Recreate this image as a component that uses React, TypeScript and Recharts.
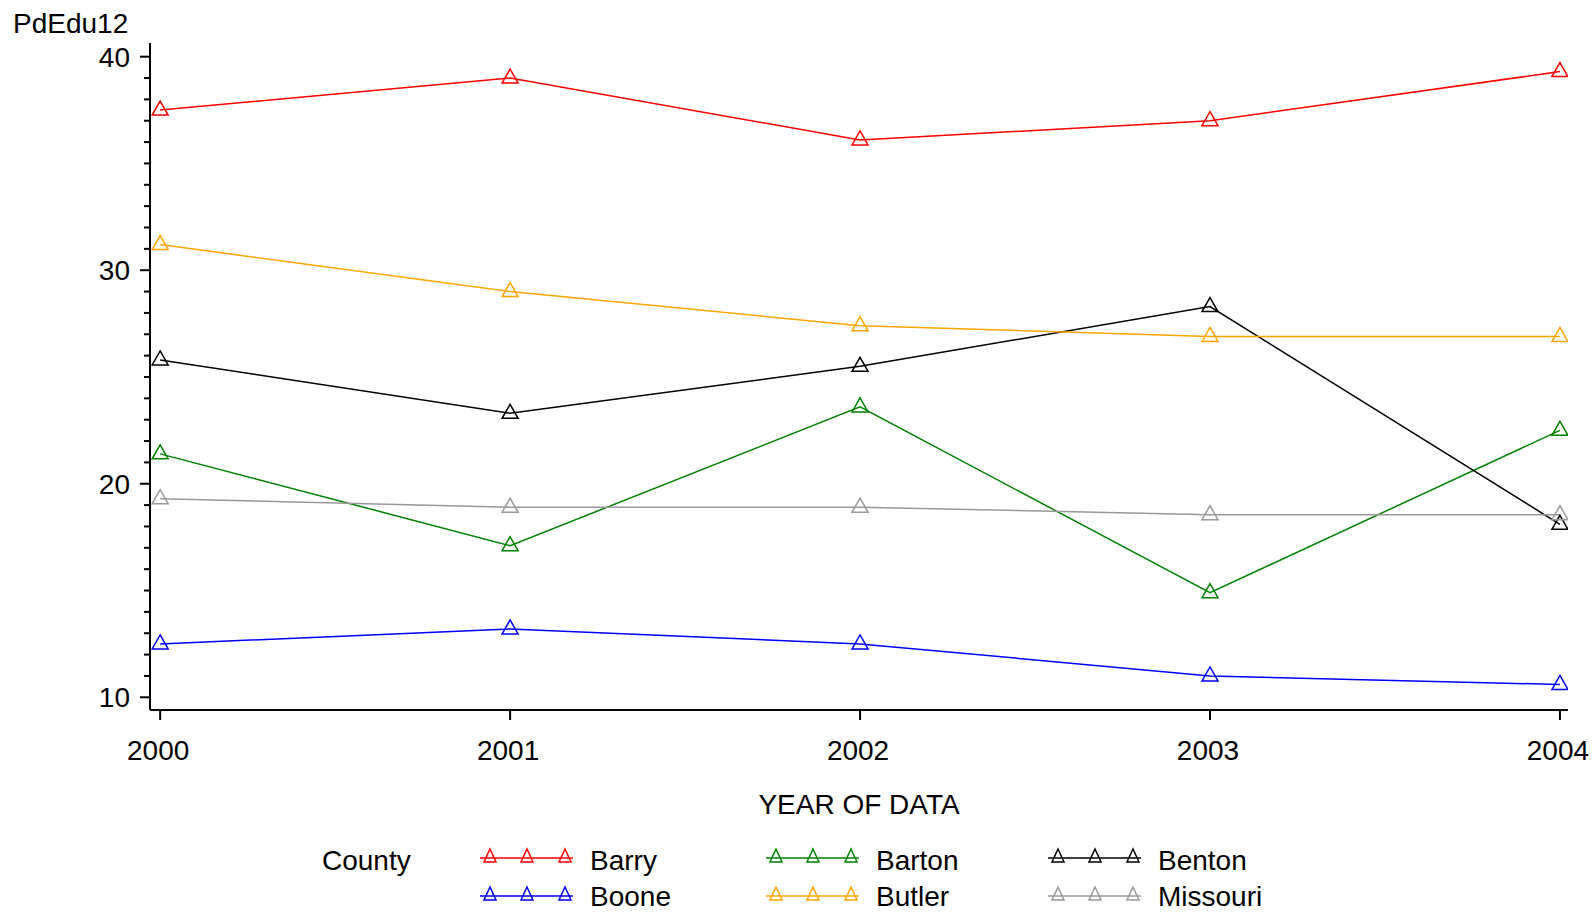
import React from 'react';
import { LineChart, Line, XAxis, YAxis, Label } from 'recharts';

const years = [2000, 2001, 2002, 2003, 2004];
const barry = [37.5, 39.0, 36.1, 37.0, 39.3];
const barton = [21.4, 17.1, 23.6, 14.9, 22.5];
const benton = [25.8, 23.3, 25.5, 28.3, 18.1];
const boone = [12.5, 13.2, 12.5, 11.0, 10.6];
const butler = [31.2, 29.0, 27.4, 26.9, 26.9];
const missouri = [19.3, 18.9, 18.9, 18.55, 18.55];

const majorYTicks = [10, 20, 30, 40];
const yTicks = [
  10, 11, 12, 13, 14, 15, 16, 17, 18, 19,
  20, 21, 22, 23, 24, 25, 26, 27, 28, 29,
  30, 31, 32, 33, 34, 35, 36, 37, 38, 39, 40,
];

const series = [
  { key: 'Barry', color: '#FF0000', values: barry },
  { key: 'Barton', color: '#008000', values: barton },
  { key: 'Benton', color: '#000000', values: benton },
  { key: 'Boone', color: '#0000FF', values: boone },
  { key: 'Butler', color: '#FFA500', values: butler },
  { key: 'Missouri', color: '#999999', values: missouri },
];

const data = years.map((year, i) => {
  const row: Record<string, number> = { year };
  series.forEach((s) => {
    row[s.key] = s.values[i];
  });
  return row;
});

const FONT = '"Liberation Sans", Arial, sans-serif';
const FS = 28;

const triPath = (cx: number, cy: number, hw: number, up: number, down: number) =>
  `M${cx},${cy - up}L${cx + hw},${cy + down}L${cx - hw},${cy + down}Z`;

const makeDot = (color: string) => (props: any) => {
  const { cx, cy, index } = props;
  if (cx == null || cy == null) return <g key={`e${index}`} />;
  return (
    <path
      key={`d${index}`}
      d={triPath(cx, cy, 8, 9, 5)}
      fill="none"
      stroke={color}
      strokeWidth={1.5}
    />
  );
};

const YTick = (props: any) => {
  const { x, y, payload } = props;
  const v = payload.value;
  const major = majorYTicks.includes(v);
  return (
    <g>
      <line x1={x - (major ? 10 : 6)} x2={x} y1={y} y2={y} stroke="#000" strokeWidth={2} />
      {major && (
        <text x={x - 20} y={y + 10} textAnchor="end" fontFamily={FONT} fontSize={FS} fill="#000">
          {v}
        </text>
      )}
    </g>
  );
};

const XTick = (props: any) => {
  const { x, y, payload } = props;
  return (
    <g>
      <line x1={x} x2={x} y1={y} y2={y + 10} stroke="#000" strokeWidth={2} />
      <text x={x - 2} y={y + 50} textAnchor="middle" fontFamily={FONT} fontSize={FS} fill="#000">
        {payload.value}
      </text>
    </g>
  );
};

const legendCols = [480, 766, 1048];
const legendRowsLine = [858, 896];
const legendRowsText = [870, 906];

export default function App() {
  return (
    <div
      style={{
        position: 'absolute',
        left: 0,
        top: 0,
        width: 1596,
        height: 912,
        background: '#fff',
        overflow: 'hidden',
      }}
    >
      <LineChart
        width={1596}
        height={912}
        data={data}
        margin={{ top: 43, right: 28, left: 70, bottom: 162 }}
      >
        <XAxis
          dataKey="year"
          type="number"
          domain={[1999.971, 2004.023]}
          ticks={years}
          allowDataOverflow
          interval={0}
          height={40}
          tickSize={0}
          tickMargin={0}
          tickLine={false}
          axisLine={{ stroke: '#000', strokeWidth: 2 }}
          tick={(p: any) => <XTick {...p} />}
        >
          <Label
            value="YEAR OF DATA"
            position="bottom"
            offset={44}
            style={{ fontFamily: FONT, fontSize: FS, fill: '#000' }}
          />
        </XAxis>
        <YAxis
          type="number"
          domain={[9.405, 40.64]}
          ticks={yTicks}
          allowDataOverflow
          interval={0}
          width={80}
          tickSize={0}
          tickMargin={0}
          tickLine={false}
          axisLine={{ stroke: '#000', strokeWidth: 2 }}
          tick={(p: any) => <YTick {...p} />}
        />
        {series.map((s) => (
          <Line
            key={s.key}
            dataKey={s.key}
            stroke={s.color}
            strokeWidth={1.5}
            dot={makeDot(s.color)}
            activeDot={false}
            isAnimationActive={false}
            type="linear"
          />
        ))}
      </LineChart>
      <svg
        width={1596}
        height={912}
        style={{ position: 'absolute', left: 0, top: 0, pointerEvents: 'none' }}
      >
        <text x={13} y={33} fontFamily={FONT} fontSize={FS} fill="#000">
          PdEdu12
        </text>
        <text x={322} y={legendRowsText[0]} fontFamily={FONT} fontSize={FS} fill="#000">
          County
        </text>
        {series.map((s, i) => {
          const col = i % 3;
          const row = Math.floor(i / 3);
          const x0 = legendCols[col];
          const ly = legendRowsLine[row];
          return (
            <g key={s.key}>
              <line x1={x0} x2={x0 + 93} y1={ly} y2={ly} stroke={s.color} strokeWidth={1.5} />
              {[10, 47, 85].map((dx) => (
                <path
                  key={dx}
                  d={triPath(x0 + dx, ly, 6, 9, 4)}
                  fill="none"
                  stroke={s.color}
                  strokeWidth={1.5}
                />
              ))}
              <text x={x0 + 110} y={legendRowsText[row]} fontFamily={FONT} fontSize={FS} fill="#000">
                {s.key}
              </text>
            </g>
          );
        })}
      </svg>
    </div>
  );
}
